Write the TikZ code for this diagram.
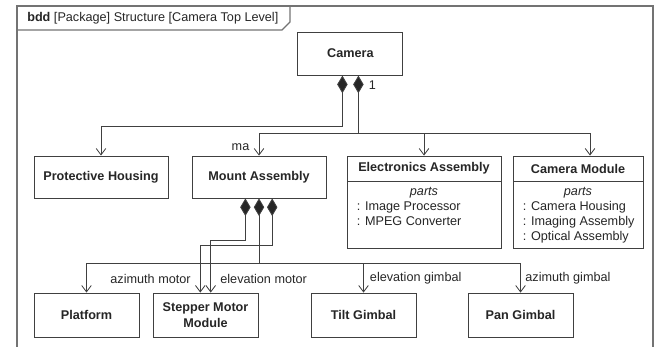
\documentclass[tikz,border=0pt]{standalone}
\usepackage{fontspec}
\setmainfont{Liberation Sans}
\usepackage{tikz}
\usetikzlibrary{arrows.meta,calc,positioning}
\tikzset{
  frm/.style={draw=black!55,line width=.8pt},
  blk/.style={rectangle,draw=black!75,fill=white,line width=.6pt,inner sep=0pt,
    font=\small\bfseries,text=black!85,align=center,minimum width=2.625cm,minimum height=1.1cm},
  hd/.style={blk,minimum height=.625cm},
  cpt/.style={rectangle,draw=black!75,fill=white,line width=.6pt,inner sep=0pt},
  rl/.style={font=\small,text=black!85,inner sep=1pt},
  pt/.style={font=\small,text=black!85,inner sep=0pt,anchor=base west},
  % composition end sits on the owner, the open barb on the part
  whl/.style={draw=black!75,line width=.6pt,-{Diamond[length=4.4mm,width=2.6mm,fill=black!85]}},
  lnk/.style={draw=black!75,line width=.6pt,-{Straight Barb[length=1.6mm,width=2.4mm]}},
  own/.style={draw=black!75,line width=.6pt,
    {Straight Barb[length=1.6mm,width=2.4mm]}-{Diamond[length=4.4mm,width=2.6mm,fill=black!85]}},
}
\begin{document}
\begin{tikzpicture}
\useasboundingbox (0,0) rectangle (16.45,8.65);
% diagram frame and its tab
\draw[frm] (0.425,-0.2) rectangle (16.325,8.5);
\draw[frm] (0.425,7.9) -- (7.05,7.9) -- (7.25,8.1) -- (7.25,8.5);
\node[rl,anchor=west] (ttl) at (0.64,8.2) {\textbf{bdd} [Package] Structure [Camera Top Level]};

\node[blk,minimum height=1.08cm] (cam) at (8.76,7.31) {Camera};

\node[blk,minimum width=3.35cm,minimum height=1.05cm] (ph) at (2.525,4.225) {Protective Housing};
\node[blk,minimum width=3.35cm,minimum height=1.05cm] (ma) at (6.475,4.225) {Mount Assembly};

\node[hd,minimum width=3.85cm] (eah) at (10.6,4.4375) {Electronics Assembly};
\node[cpt,minimum width=3.85cm,minimum height=1.675cm,below=0pt of eah] (eab) {};
\node[rl,font=\small\itshape,inner sep=0pt,anchor=base] at ($(eab.north)+(0,-0.35)$) {parts};
\foreach \p [count=\i] in {Image Processor,MPEG Converter}
  \node[pt] at ($(eab.north west)+(0.25,-0.35-0.375*\i)$) {: \p};

\node[hd,minimum width=3.25cm] (cmh) at (14.45,4.4375) {Camera Module};
\node[cpt,minimum width=3.25cm,minimum height=1.675cm,below=0pt of cmh] (cmb) {};
\node[rl,font=\small\itshape,inner sep=0pt,anchor=base] at ($(cmb.north)+(0,-0.35)$) {parts};
\foreach \p [count=\i] in {Camera Housing,Imaging Assembly,Optical Assembly}
  \node[pt] at ($(cmb.north west)+(0.25,-0.35-0.375*\i)$) {: \p};

\node[blk] (pf) at (2.1625,0.775) {Platform};
\node[blk] (sm) at (5.1375,0.775) {Stepper Motor\\Module};
\node[blk] (tg) at (9.0875,0.775) {Tilt Gimbal};
\node[blk] (pg) at (13.0125,0.775) {Pan Gimbal};

% camera owns its four parts
\coordinate (cj1) at (8.56,5.5);
\coordinate (cj2) at (8.96,5.325);
\draw[own] (ph.north) |- (cj1) -- (cam.south -| cj1);
\draw[whl] (cj2) -- (cam.south -| cj2);
\draw[lnk] (cj2) -| (ma.north);
\draw[lnk] (cj2) -| (eah.north);
\draw[lnk] (cj2) -| ($(cmh.north)+(0.3,0)$);
\node[rl,anchor=west] at ($(cam.south)+(0.42,-0.25)$) {1};
\node[rl,anchor=east] at ($(ma.north)+(-0.2,0.2)$) {ma};

% mount assembly: two motors and the gimbal bus
\coordinate (azm) at ($(sm.north)+(-0.13,0)$);
\coordinate (elv) at ($(sm.north)+(0.13,0)$);
\coordinate (mj1) at (6.135,2.65);
\coordinate (mj3) at (6.805,2.525);
\coordinate (mj2) at (6.475,2.075);
\draw[own] (elv) |- (mj1) -- (ma.south -| mj1);
\draw[own] (azm) |- (mj3) -- (ma.south -| mj3);
\draw[whl] (mj2) -- (ma.south);
\draw[lnk] (mj2) -| (pf.north);
\draw[lnk] (mj2) -| (tg.north);
\draw[lnk] (mj2) -| (pg.north);
\node[rl,anchor=east] at ($(azm)+(-0.2,0.35)$) {azimuth motor};
\node[rl,anchor=west] at ($(elv)+(0.2,0.35)$) {elevation motor};
\node[rl,anchor=west] at ($(tg.north)+(0.12,0.35)$) {elevation gimbal};
\node[rl,anchor=west] at ($(pg.north)+(0.08,0.35)$) {azimuth gimbal};
\end{tikzpicture}
\end{document}
